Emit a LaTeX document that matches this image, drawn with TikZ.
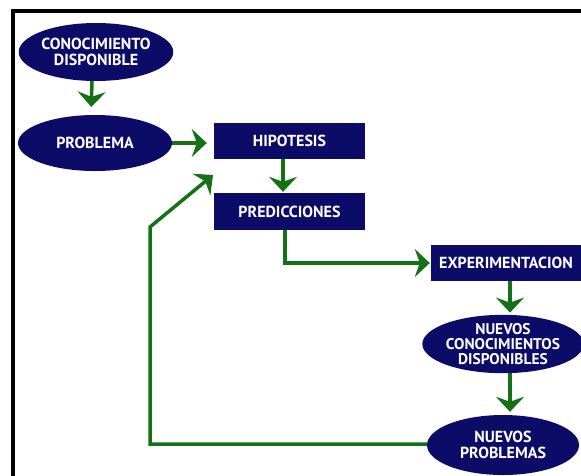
\documentclass[tikz,border=0pt]{standalone}
\usepackage{fontspec}
\newfontfamily\labfont{PT Sans}
\usetikzlibrary{arrows.meta,shapes.geometric}
\definecolor{navy}{RGB}{12,12,104}
\definecolor{arrgreen}{RGB}{22,112,22}
\tikzset{
  lbl/.style={text=white, font=\labfont\bfseries\fontsize{16}{16}\selectfont, align=center, inner sep=0pt},
  oval/.style={lbl, ellipse, fill=navy},
  block/.style={lbl, rectangle, fill=navy},
  link/.style={draw=arrgreen, line width=3.5pt, -{Stealth[length=15pt,width=28pt,inset=5pt]}},
}
\begin{document}
\begin{tikzpicture}[x=1pt,y=-1pt]
\useasboundingbox (0,0) rectangle (581,475);
\clip (0,0) rectangle (581,475);
\fill[white] (0,0) rectangle (581,475);
\draw[line width=4pt] (13,490) -- (13,11) -- (600,11);

\node[oval, minimum width=154pt, minimum height=58pt] (c1) at (96,52) {CONOCIMIENTO\\DISPONIBLE};
\node[oval, minimum width=154pt, minimum height=56pt] (prob) at (95,143) {PROBLEMA};
\node[block, minimum width=151pt, minimum height=36pt] (hip) at (289.5,141) {HIPOTESIS};
\node[block, minimum width=151pt, minimum height=37pt] (pred) at (289.5,211.5) {PREDICCIONES};
\node[block, minimum width=150pt, minimum height=36pt] (exp) at (506,263) {EXPERIMENTACION};
\node[oval, minimum width=152pt, minimum height=58pt, font=\labfont\bfseries\fontsize{15.5}{15}\selectfont] (nc) at (503,344) {NUEVOS\\CONOCIMIENTOS\\DISPONIBLES};
\node[oval, minimum width=152pt, minimum height=60pt] (np) at (503,445) {NUEVOS\\PROBLEMAS};

\coordinate (loopa) at (150,444);
\coordinate (loopb) at (150,227);
\coordinate (loopt) at (213,175);

\draw[link, shorten >=8pt] ([xshift=-4pt]c1.south) -- ([xshift=-4pt]prob.north);
\draw[link, shorten >=7pt] (prob.east) -- (prob.east -| hip.west);
\draw[link, shorten >=1pt] ([xshift=-6.5pt]hip.south) -- ([xshift=-6.5pt]pred.north);
\draw[link, shorten >=1pt] ([xshift=-4.5pt]pred.south) |- (exp.west);
\draw[link, shorten >=2pt] ([xshift=4pt]exp.south) -- ([xshift=7pt]nc.north);
\draw[link, shorten >=3pt] ([xshift=7pt]nc.south) -- ([xshift=7pt]np.north);
\draw[link] (np.west |- loopa) -- (loopa) -- (loopb) -- (loopt);
\end{tikzpicture}
\end{document}
